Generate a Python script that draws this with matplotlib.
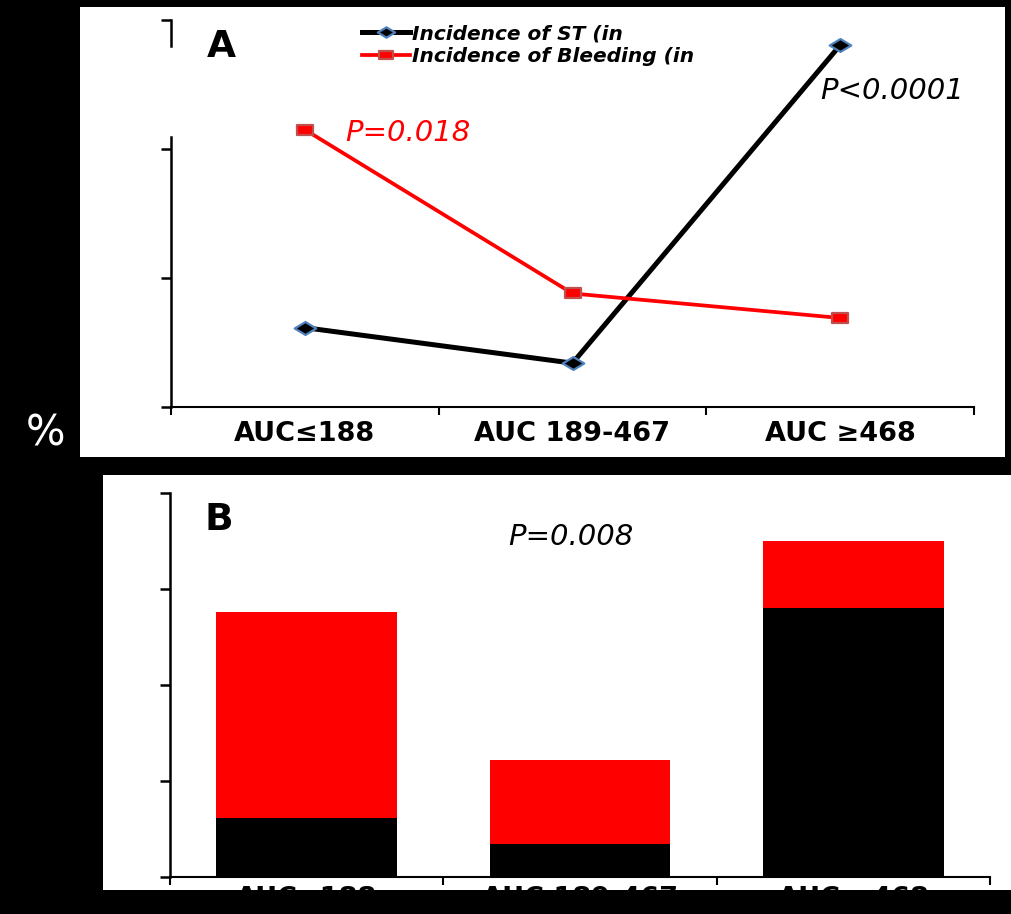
import matplotlib
matplotlib.use("Agg")
import matplotlib.pyplot as plt
from matplotlib.path import Path
from matplotlib.patches import Rectangle
from matplotlib.lines import Line2D
import numpy as np

# ---- data ----
categories = ["AUC\u2264188", "AUC 189-467", "AUC \u2265468"]
st_incidence = [1.23, 0.68, 5.61]        # stent thrombosis, %
bleeding_incidence = [4.30, 1.76, 1.38]  # bleeding, %
legend_labels = ["Incidence of ST (in", "Incidence of Bleeding (in"]
p_line_st = "P<0.0001"
p_line_bleed = "P=0.018"
p_bar = "P=0.008"

W, H = 1011, 914
fig = plt.figure(figsize=(W / 100, H / 100), dpi=100, facecolor="black")


def fx(px):
    return px / W


def fy(py):
    return 1 - py / H


# white panels on black background
fig.patches.append(Rectangle((fx(80), fy(457)), fx(1005) - fx(80), (457 - 7) / H,
                             transform=fig.transFigure, facecolor="white",
                             edgecolor="none", zorder=-5))
fig.patches.append(Rectangle((fx(103), fy(890)), fx(1011) - fx(103), (890 - 475) / H,
                             transform=fig.transFigure, facecolor="white",
                             edgecolor="none", zorder=-5))

diamond = Path([(-1, 0), (0, 0.6), (1, 0), (0, -0.6), (-1, 0)],
               [Path.MOVETO, Path.LINETO, Path.LINETO, Path.LINETO, Path.CLOSEPOLY])
wide_square = Path([(-1, -0.56), (1, -0.56), (1, 0.56), (-1, 0.56), (-1, -0.56)],
                   [Path.MOVETO, Path.LINETO, Path.LINETO, Path.LINETO, Path.CLOSEPOLY])

x = np.arange(len(categories)) + 0.5

# ---- panel A: line chart ----
axA = fig.add_axes([fx(171), fy(407), (974 - 171) / W, (407 - 20) / H])
axA.set_facecolor("none")
axA.plot(x, st_incidence, color="black", lw=3.6, marker=diamond, ms=15.5,
         mfc="black", mec="#4f81bd", mew=1.6, label=legend_labels[0], zorder=3)
axA.plot(x, bleeding_incidence, color="#ff0000", lw=2.7, marker=wide_square, ms=12,
         mfc="#ff0000", mec="#c0504d", mew=1.6, label=legend_labels[1], zorder=3)
axA.set_xlim(0, 3)
axA.set_ylim(0, 6)
axA.set_yticks([0, 2, 4, 6])
axA.set_yticklabels([])
axA.set_xticks([0, 1, 2, 3])
axA.set_xticklabels([])
axA.set_xticks(x, minor=True)
axA.set_xticklabels(categories, minor=True, fontsize=19.5, fontweight="bold")
axA.tick_params(axis="x", which="minor", length=0, pad=10)
axA.tick_params(axis="x", which="major", length=6, width=1.5, direction="out")
axA.tick_params(axis="y", length=7, width=1.8, direction="out")
for s in ("top", "right", "left"):
    axA.spines[s].set_visible(False)
axA.spines["bottom"].set_linewidth(1.5)
# left axis line, interrupted behind the legend area
for y0, y1 in ((0, (407 - 137) / 387), ((407 - 46) / 387, 1.0)):
    axA.add_line(Line2D([0, 0], [y0, y1], transform=axA.transAxes, color="black",
                        lw=1.8, clip_on=False, zorder=4))

leg = axA.legend(loc="upper left", bbox_to_anchor=(fx(362), fy(24)),
                 bbox_transform=fig.transFigure, frameon=False, borderpad=0,
                 borderaxespad=0, handlelength=2.4, handletextpad=0.1,
                 labelspacing=0.2, markerscale=0.8,
                 prop={"size": 14.5, "weight": "bold", "style": "italic"})

fig.text(fx(207), fy(57), "A", fontsize=27, fontweight="bold", va="baseline")
fig.text(fx(345), fy(141), p_line_bleed, fontsize=21, style="italic",
         color="#ff0000", va="baseline")
fig.text(fx(820), fy(99), p_line_st, fontsize=21, style="italic",
         color="black", va="baseline")

# ---- panel B: stacked bars ----
axB = fig.add_axes([fx(170), fy(877), (990 - 170) / W, (877 - 493) / H])
axB.set_facecolor("none")
axB.bar(x, st_incidence, width=0.66, color="black", edgecolor="none")
axB.bar(x, bleeding_incidence, width=0.66, bottom=st_incidence,
        color="#ff0000", edgecolor="none")
axB.set_xlim(0, 3)
axB.set_ylim(0, 8)
axB.set_yticks([0, 2, 4, 6, 8])
axB.set_yticklabels([])
axB.set_xticks([0, 1, 2, 3])
axB.set_xticklabels([])
axB.set_xticks(x, minor=True)
axB.set_xticklabels(categories, minor=True, fontsize=19.5, fontweight="bold")
axB.tick_params(axis="x", which="minor", length=0, pad=6.5)
axB.tick_params(axis="x", which="major", length=6, width=1.5, direction="out")
axB.tick_params(axis="y", length=7, width=1.8, direction="out")
for s in ("top", "right"):
    axB.spines[s].set_visible(False)
axB.spines["bottom"].set_linewidth(1.5)
axB.spines["left"].set_linewidth(1.8)

fig.text(fx(204), fy(530), "B", fontsize=27, fontweight="bold", va="baseline")
fig.text(fx(508), fy(545), p_bar, fontsize=21, style="italic",
         color="black", va="baseline")

# black band along the bottom edge
fig.patches.append(Rectangle((0, 0), 1, (H - 890) / H, transform=fig.transFigure,
                             facecolor="black", edgecolor="none", zorder=10))

# shared y-axis unit
fig.text(fx(45), fy(434), "%", color="white", fontsize=30, ha="center", va="center",
         family=["Liberation Sans Narrow", "DejaVu Sans"])

fig.savefig("out.png", dpi=100, facecolor="black")
